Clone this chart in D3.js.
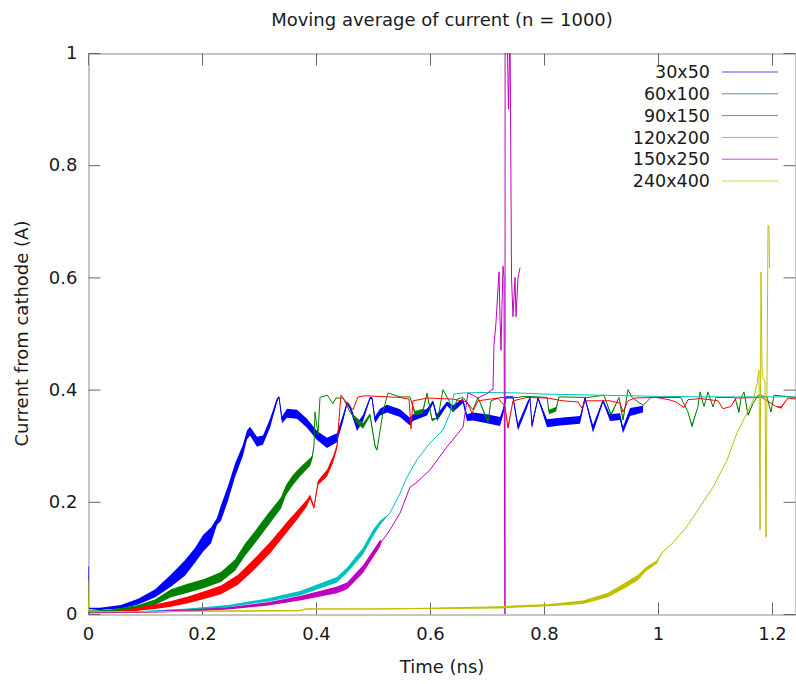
<!DOCTYPE html>
<html><head><meta charset="utf-8">
<script src="https://cdn.jsdelivr.net/npm/d3@7"></script>
<style>
body{margin:0;background:#fff}
svg{display:block}
text{font-family:"DejaVu Sans",sans-serif;fill:#1a1a1a}
</style>
</head><body>
<svg id="chart" width="796" height="684"></svg>
<script>
// ---------- data ----------
const title = "Moving average of current (n = 1000)";
const xLabel = "Time (ns)";
const yLabel = "Current from cathode (A)";
const xTicks = [0, 0.2, 0.4, 0.6, 0.8, 1, 1.2];
const yTicks = [0, 0.2, 0.4, 0.6, 0.8, 1];
const seriesNames = ["30x50", "60x100", "90x150", "120x200", "150x250", "240x400"];
const seriesColors = ["#0000ff", "#008000", "#ff0000", "#00c0c0", "#c000c0", "#c0c000"];

// each point: [time (ns), current (A), noise half-spread (A)]
const s30x50 = [
  [0,0.085,0],[0.001,0.01,0.001],[0.021,0.009,0.002],[0.058,0.013,0.003],[0.088,0.022,0.005],
  [0.118,0.037,0.007],[0.146,0.06,0.011],[0.170,0.082,0.014],[0.188,0.105,0.013],[0.2018,0.126,0.015],
  [0.2158,0.140,0.014],[0.2263,0.165,0.006],[0.2333,0.180,0.014],[0.2456,0.215,0.013],[0.2579,0.256,0.012],
  [0.2719,0.292,0.010],[0.2789,0.319,0.008],[0.2842,0.326,0.008],[0.2965,0.307,0.009],[0.3070,0.31,0.008],
  [0.3193,0.34,0.008],[0.3316,0.381,0.004],[0.3351,0.387,0.001],[0.3404,0.346,0.006],[0.3491,0.358,0.008],
  [0.3667,0.356,0.008],[0.3842,0.34,0.008],[0.4018,0.318,0.008],[0.4193,0.305,0.009],[0.4368,0.314,0.008],
  [0.4474,0.349,0.006],[0.4544,0.376,0.003],[0.4596,0.369,0.004],[0.4719,0.333,0.007],[0.4825,0.349,0.006],
  [0.4947,0.385,0.002],[0.4982,0.385,0.002],[0.5035,0.346,0.006],[0.5123,0.36,0.006],[0.5246,0.366,0.007],
  [0.5474,0.358,0.007],[0.5649,0.343,0.007],[0.5702,0.35,0.006],[0.5947,0.36,0.006],[0.6053,0.378,0.003],
  [0.6123,0.35,0.006],[0.6298,0.375,0.004],[0.6404,0.366,0.006],[0.6579,0.38,0.004],[0.6649,0.35,0.006],
  [0.6754,0.352,0.007],[0.7,0.348,0.008],[0.7228,0.343,0.008],[0.7281,0.36,0.006],[0.7333,0.386,0.002],
  [0.7456,0.386,0.002],[0.7544,0.333,0.006],[0.7702,0.372,0.005],[0.7754,0.385,0.002],[0.7789,0.336,0.006],
  [0.7895,0.385,0.002],[0.8053,0.34,0.007],[0.8281,0.343,0.007],[0.8632,0.346,0.007],[0.8719,0.385,0.002],
  [0.8860,0.33,0.007],[0.9035,0.38,0.003],[0.9158,0.35,0.006],[0.9333,0.352,0.006],[0.9386,0.328,0.006],
  [0.9509,0.36,0.007],[0.9737,0.365,0.006]
];
const s60x100 = [
  [0,0.005,0.001],[0.035,0.005,0.002],[0.088,0.012,0.004],[0.1175,0.021,0.005],[0.1456,0.037,0.007],
  [0.175,0.046,0.008],[0.205,0.055,0.008],[0.2333,0.066,0.009],[0.2579,0.087,0.010],[0.275,0.114,0.011],
  [0.2930,0.137,0.011],[0.3158,0.168,0.011],[0.3386,0.198,0.010],[0.3474,0.221,0.009],[0.3597,0.239,0.009],
  [0.3719,0.253,0.008],[0.3895,0.271,0.007],[0.393,0.278,0.004],[0.3965,0.30,0],[0.3982,0.36,0],
  [0.4035,0.32,0],[0.407,0.386,0],[0.42,0.39,0],[0.4298,0.375,0],[0.435,0.385,0],[0.4474,0.385,0],
  [0.4596,0.36,0],[0.4719,0.345,0.005],[0.4825,0.335,0.005],[0.4947,0.355,0.003],[0.5035,0.30,0.003],
  [0.5070,0.292,0],[0.5175,0.36,0],[0.5263,0.394,0],[0.5474,0.387,0],[0.5649,0.387,0],[0.5737,0.358,0.004],
  [0.5877,0.362,0.004],[0.5947,0.394,0],[0.6035,0.346,0.003],[0.6140,0.35,0],[0.6228,0.40,0],
  [0.6330,0.381,0],[0.6404,0.36,0],[0.6474,0.383,0],[0.6579,0.386,0],[0.6754,0.364,0],[0.6842,0.386,0],
  [0.7018,0.342,0.003],[0.7070,0.38,0],[0.7228,0.386,0],[0.7404,0.386,0],[0.7544,0.386,0],[0.7632,0.388,0],
  [0.7895,0.387,0],[0.8053,0.386,0],[0.8088,0.36,0.004],[0.8211,0.365,0.004],[0.8263,0.387,0],
  [0.8772,0.386,0],[0.9052,0.39,0],[0.9175,0.355,0.003],[0.9316,0.386,0],[0.9386,0.346,0.003],
  [0.9474,0.40,0],[0.9544,0.386,0],[0.9737,0.372,0],[0.9877,0.386,0],[1.04,0.386,0],[1.0526,0.36,0],
  [1.0596,0.335,0.003],[1.0702,0.37,0],[1.0737,0.396,0],[1.0807,0.37,0],[1.0877,0.396,0],[1.0965,0.369,0],
  [1.1018,0.386,0],[1.135,0.386,0],[1.1421,0.36,0.003],[1.1456,0.385,0],[1.1509,0.396,0],[1.1579,0.355,0.003],
  [1.1667,0.375,0],[1.1754,0.39,0],[1.1912,0.387,0],[1.1982,0.36,0],[1.2035,0.39,0],[1.2421,0.386,0]
];
const s90x150 = [
  [0,0.004,0.001],[0.058,0.004,0.002],[0.0877,0.009,0.003],[0.1175,0.013,0.004],[0.1456,0.018,0.005],
  [0.1754,0.025,0.006],[0.2053,0.034,0.007],[0.2333,0.043,0.008],[0.2632,0.061,0.009],[0.2930,0.09,0.010],
  [0.3211,0.12,0.010],[0.3509,0.157,0.009],[0.3667,0.176,0.008],[0.3842,0.198,0.006],[0.3895,0.209,0.004],
  [0.3965,0.19,0.003],[0.4035,0.234,0.004],[0.4193,0.251,0.006],[0.4298,0.275,0.006],[0.4368,0.298,0.004],
  [0.4421,0.37,0],[0.4439,0.39,0],[0.4544,0.376,0],[0.4649,0.364,0],[0.4737,0.387,0],[0.4860,0.389,0],
  [0.5474,0.386,0],[0.5632,0.383,0],[0.5667,0.33,0],[0.5702,0.38,0],[0.5965,0.385,0],[0.6404,0.383,0],
  [0.6649,0.378,0],[0.6737,0.358,0],[0.6842,0.38,0],[0.7193,0.385,0],[0.7316,0.37,0],[0.7368,0.332,0.003],
  [0.7456,0.38,0],[0.7702,0.386,0],[0.8053,0.385,0],[0.8333,0.38,0],[0.8596,0.378,0],[0.8667,0.367,0],
  [0.8737,0.38,0],[0.9158,0.38,0],[0.9333,0.376,0],[0.9386,0.36,0],[0.9474,0.38,0],[0.96,0.385,0],
  [0.9965,0.386,0],[1.0193,0.382,0],[1.0316,0.378,0],[1.0456,0.368,0],[1.0526,0.382,0],[1.075,0.384,0],
  [1.1053,0.38,0],[1.1140,0.366,0],[1.1281,0.37,0],[1.1368,0.385,0],[1.1825,0.386,0],[1.2070,0.37,0],
  [1.2158,0.368,0.002],[1.2281,0.385,0],[1.2421,0.383,0]
];
const s120x200 = [
  [0,0.003,0],[0.0877,0.004,0.001],[0.1754,0.008,0.002],[0.2456,0.014,0.002],[0.3158,0.025,0.003],
  [0.3719,0.037,0.004],[0.4368,0.061,0.005],[0.4544,0.078,0.005],[0.4825,0.112,0.006],[0.5,0.144,0.006],
  [0.5123,0.162,0.004],[0.5298,0.18,0],[0.5474,0.215,0],[0.5596,0.244,0],[0.5772,0.275,0],[0.6,0.305,0],
  [0.6228,0.328,0],[0.6351,0.358,0],[0.6421,0.392,0],[0.6579,0.394,0],[0.7,0.395,0],[0.7544,0.394,0],
  [0.8,0.392,0],[0.9,0.39,0],[1.0,0.388,0],[1.1,0.387,0],[1.2421,0.387,0]
];
const s150x250 = [
  [0,0.002,0],[0.0877,0.003,0.001],[0.1754,0.006,0.002],[0.2456,0.010,0.002],[0.3158,0.018,0.003],
  [0.3719,0.028,0.004],[0.4368,0.043,0.006],[0.4544,0.05,0.006],[0.4825,0.08,0.007],[0.5123,0.126,0.006],
  [0.5158,0.13,0],[0.5298,0.15,0],[0.5474,0.18,0],[0.5649,0.226,0],[0.5772,0.235,0],[0.6,0.257,0],
  [0.6298,0.298,0],[0.6579,0.333,0],[0.6667,0.394,0],[0.6754,0.39,0],[0.6842,0.385,0],[0.7,0.393,0],
  [0.7088,0.40,0],[0.7105,0.40,0],[0.7123,0.48,0],[0.7158,0.52,0],[0.7193,0.58,0],[0.7211,0.61,0],
  [0.7228,0.53,0],[0.7246,0.47,0],[0.7263,0.55,0],[0.7281,0.62,0],[0.7298,0.60,0],[0.7316,-0.1,0],
  [0.7318,1.3,0],[0.7351,1.05,0],[0.7377,0.90,0],[0.7404,1.05,0],[0.7430,0.60,0],[0.7456,0.53,0],
  [0.7491,0.60,0],[0.7509,0.53,0],[0.7544,0.60,0],[0.7579,0.617,0]
];
const s240x400 = [
  [0,0.06,0],[0.001,0.004,0],[0.1,0.004,0.001],[0.2,0.005,0.001],[0.37,0.006,0.001],[0.3825,0.009,0.001],
  [0.5,0.009,0.001],[0.6,0.010,0.001],[0.7228,0.012,0.002],[0.81,0.016,0.002],[0.8684,0.021,0.003],
  [0.9123,0.034,0.004],[0.9404,0.05,0.005],[0.9649,0.065,0.005],[0.9789,0.08,0.004],[0.9982,0.093,0.003],
  [1.0070,0.109,0],[1.0263,0.127,0],[1.05,0.155,0],[1.0737,0.191,0],[1.0965,0.226,0],[1.1211,0.274,0],
  [1.1386,0.323,0],[1.1561,0.358,0],[1.1667,0.381,0],[1.1737,0.41,0],[1.1772,0.435,0],[1.179,0.15,0],
  [1.1807,0.61,0],[1.1825,0.44,0],[1.1842,0.42,0],[1.1877,0.415,0],[1.1895,0.137,0],[1.1930,0.693,0],
  [1.1947,0.69,0],[1.1956,0.617,0]
];
const seriesData = [s30x50, s60x100, s90x150, s120x200, s150x250, s240x400];

// ---------- layout ----------
const plot = {left: 88, top: 53, right: 796, bottom: 614};
const svg = d3.select("#chart");

const x = d3.scaleLinear().domain([0, (plot.right - plot.left) / 570]).range([plot.left, plot.right]);
const y = d3.scaleLinear().domain([0, 1]).range([plot.bottom, plot.top]);

svg.append("defs").append("clipPath").attr("id", "clip")
  .append("rect").attr("x", plot.left).attr("y", plot.top)
  .attr("width", plot.right - plot.left).attr("height", plot.bottom - plot.top);

const fmt = d => String(d);
const tickLen = 12;
const axisColor = "#8a8a8a";
const fontSize = 18;

// axes (inward ticks, mirrored)
const gx = svg.append("g").attr("transform", `translate(0,${plot.bottom + 0.5})`)
  .call(d3.axisBottom(x).tickValues(xTicks).tickFormat(fmt).tickSizeInner(-tickLen).tickSizeOuter(0).tickPadding(13));
const gxTop = svg.append("g").attr("transform", `translate(0,${plot.top + 0.5})`)
  .call(d3.axisTop(x).tickValues(xTicks).tickFormat("").tickSizeInner(-tickLen).tickSizeOuter(0));
const gy = svg.append("g").attr("transform", `translate(${plot.left + 0.5},0)`)
  .call(d3.axisLeft(y).tickValues(yTicks).tickFormat(fmt).tickSizeInner(-tickLen).tickSizeOuter(0).tickPadding(11));
const gyR = svg.append("g").attr("transform", `translate(${plot.right - 0.5},0)`)
  .call(d3.axisRight(y).tickValues(yTicks).tickFormat("").tickSizeInner(-tickLen).tickSizeOuter(0));
[gx, gxTop, gy, gyR].forEach(g => {
  g.selectAll("path.domain").attr("stroke", axisColor);
  g.selectAll(".tick line").attr("stroke", "#666");
  g.selectAll(".tick text").attr("font-size", fontSize).attr("font-family", '"DejaVu Sans",sans-serif').attr("fill", "#1a1a1a");
});
gx.selectAll(".tick text").attr("dy", "0.71em");

// series
const lineGen = d3.line().x(d => x(d[0])).y(d => y(d[1]));
const areaGen = d3.area().x(d => x(d[0])).y0(d => y(d[1] - d[2])).y1(d => y(d[1] + d[2]));
const gPlot = svg.append("g").attr("clip-path", "url(#clip)");
seriesData.forEach((data, i) => {
  gPlot.append("path").datum(data).attr("d", areaGen)
    .attr("fill", seriesColors[i]).attr("stroke", "none");
  gPlot.append("path").datum(data).attr("d", lineGen)
    .attr("fill", "none").attr("stroke", seriesColors[i]).attr("stroke-width", 1);
});

// legend
const legend = svg.append("g");
seriesNames.forEach((name, i) => {
  const ly = 72 + i * 21.8;
  legend.append("text").attr("x", 710).attr("y", ly).attr("dy", "0.35em")
    .attr("text-anchor", "end").attr("font-size", 17.5).text(name);
  legend.append("line").attr("x1", 722).attr("x2", 778).attr("y1", ly).attr("y2", ly)
    .attr("stroke", seriesColors[i]).attr("stroke-width", 1).attr("opacity", 0.7);
});

// titles
svg.append("text").attr("x", (plot.left + plot.right) / 2).attr("y", 20).attr("dy", "0.35em")
  .attr("text-anchor", "middle").attr("font-size", 18).text(title);
svg.append("text").attr("x", (plot.left + plot.right) / 2).attr("y", 667).attr("dy", "0.35em")
  .attr("text-anchor", "middle").attr("font-size", fontSize).text(xLabel);
svg.append("text").attr("transform", `translate(22,${(plot.top + plot.bottom) / 2}) rotate(-90)`)
  .attr("dy", "0.35em").attr("text-anchor", "middle").attr("font-size", fontSize).text(yLabel);
</script>
</body></html>
